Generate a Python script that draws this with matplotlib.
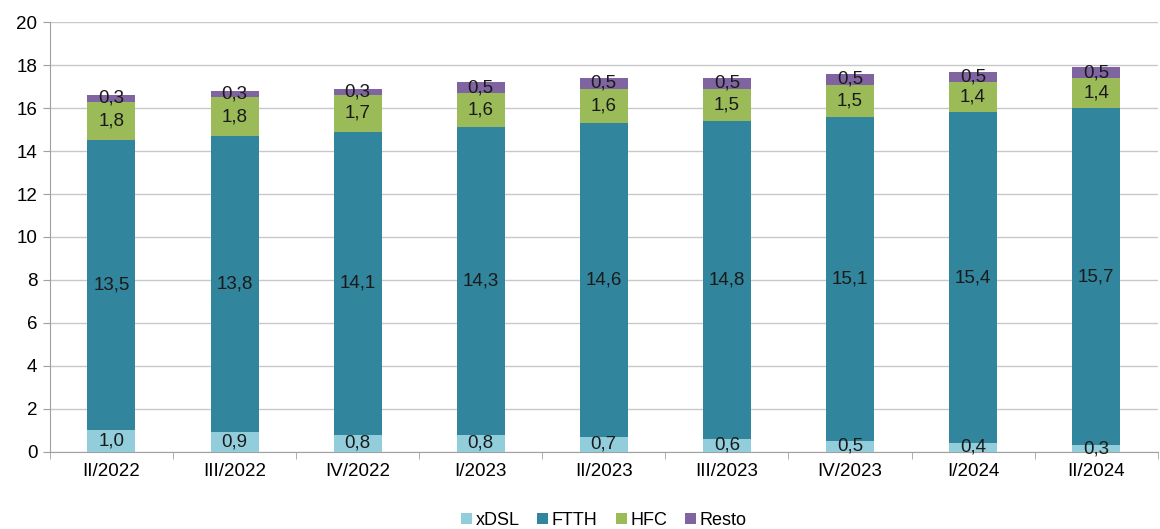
import numpy as np
import matplotlib.pyplot as plt
from matplotlib.ticker import FixedLocator

plt.rcParams['font.family'] = ['Liberation Sans', 'DejaVu Sans']

# data
periods = ['II/2022', 'III/2022', 'IV/2022', 'I/2023', 'II/2023',
           'III/2023', 'IV/2023', 'I/2024', 'II/2024']
xdsl = [1.0, 0.9, 0.8, 0.8, 0.7, 0.6, 0.5, 0.4, 0.3]
ftth = [13.5, 13.8, 14.1, 14.3, 14.6, 14.8, 15.1, 15.4, 15.7]
hfc = [1.8, 1.8, 1.7, 1.6, 1.6, 1.5, 1.5, 1.4, 1.4]
resto = [0.3, 0.3, 0.3, 0.5, 0.5, 0.5, 0.5, 0.5, 0.5]

series = [('xDSL', xdsl, '#92cddc'),
          ('FTTH', ftth, '#31859c'),
          ('HFC', hfc, '#9bbb59'),
          ('Resto', resto, '#8064a2')]

FS = 13.5

fig = plt.figure(figsize=(11.6, 5.29), dpi=100)
ax = fig.add_axes([0.043, 0.146, 0.955, 0.812])

x = np.arange(len(periods))
bottom = np.zeros(len(periods))
for name, vals, col in series:
    vals = np.array(vals)
    ax.bar(x, vals, 0.39, bottom=bottom, color=col, label=name, zorder=3)
    for xi, b, v in zip(x, bottom, vals):
        ax.text(xi, b + v / 2, ('%.1f' % v).replace('.', ','), ha='center',
                va='center', fontsize=FS, color='#1a1a1a', zorder=4)
    bottom += vals

ax.set_xlim(-0.5, len(periods) - 0.5)
ax.set_ylim(0, 20)
ax.set_yticks(np.arange(0, 21, 2))
ax.set_xticks(x)
ax.set_xticklabels(periods)
ax.xaxis.set_minor_locator(FixedLocator(np.arange(-0.5, len(periods), 1)))
ax.tick_params(axis='x', which='major', length=0, pad=8, labelsize=FS)
ax.tick_params(axis='x', which='minor', length=5, color='#a0a0a0')
ax.tick_params(axis='y', length=5, color='#a0a0a0', labelsize=FS, pad=4)
ax.grid(axis='y', color='#c8c8c8', linewidth=1, zorder=0)
for s in ['top', 'right']:
    ax.spines[s].set_visible(False)
for s in ['left', 'bottom']:
    ax.spines[s].set_color('#a0a0a0')

ax.legend(loc='lower center', bbox_to_anchor=(0.5, -0.205), ncol=4,
          frameon=False, fontsize=13, handlelength=0.6, handleheight=0.6,
          handletextpad=0.2, columnspacing=1.0, borderaxespad=0.2)

fig.savefig('out.png', dpi=100)
